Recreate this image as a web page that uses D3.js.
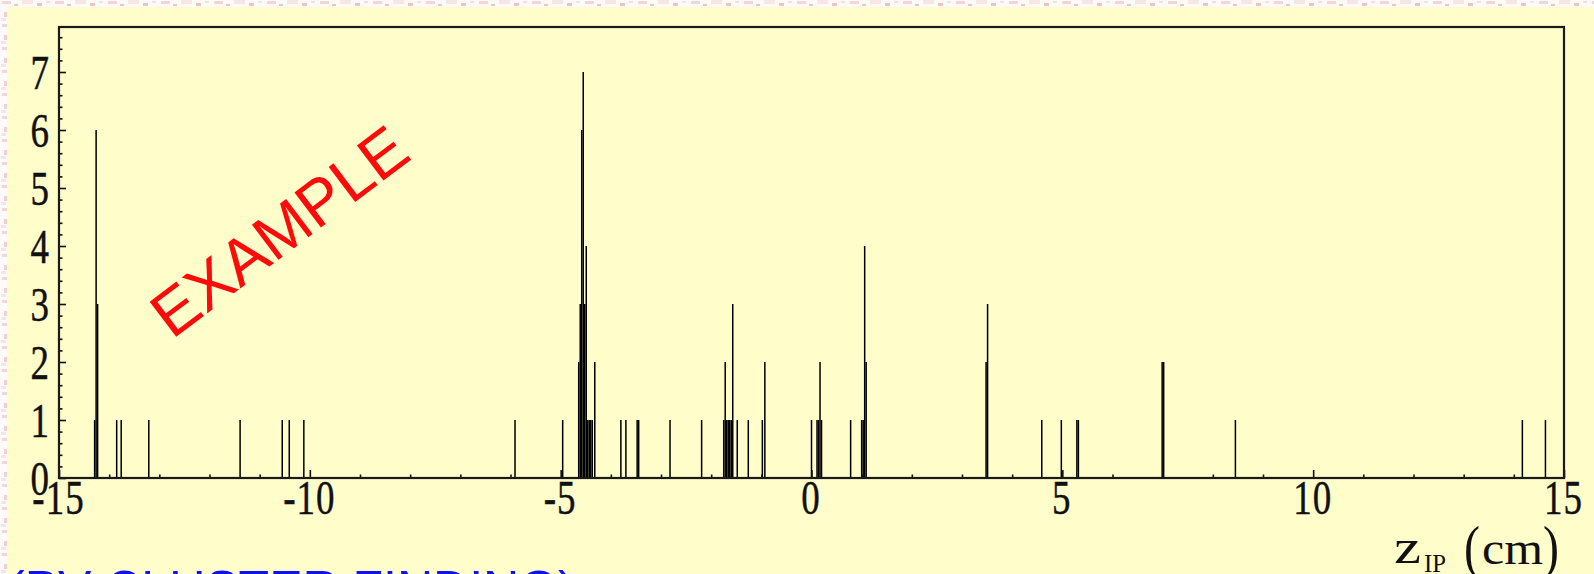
<!DOCTYPE html>
<html>
<head>
<meta charset="utf-8">
<script src="https://cdn.jsdelivr.net/npm/d3@7"></script>
<style>
  html, body { margin: 0; padding: 0; background: #fff; overflow: hidden; }
  svg { display: block; }
</style>
</head>
<body>
<svg id="chart" width="1594" height="574"></svg>
<script>
// Primary-vertex z histogram: bin centres (cm) and entries per bin
const binCenters = [
  -14.29, -14.26, -14.23,
  -13.85, -13.76,
  -13.21,
  -11.39,
  -10.55, -10.41, -10.12,
  -5.91,
  -4.96,
  -4.64, -4.61, -4.58, -4.55, -4.52, -4.49, -4.46, -4.43, -4.40, -4.37, -4.32,
  -3.80, -3.70, -3.475, -3.445,
  -2.82, -2.19,
  -1.75, -1.72, -1.69, -1.66, -1.63, -1.60, -1.57,
  -1.48, -1.26, -0.98, -0.93,
  0.00, 0.11, 0.14, 0.17, 0.20,
  0.78,
  1.00, 1.03, 1.06, 1.09,
  3.48, 3.51,
  4.59, 4.98, 5.29, 5.32,
  6.99, 7.02,
  8.45,
  14.17, 14.63
];
const binCounts = [
  1, 6, 3,
  1, 1,
  1,
  1,
  1, 1, 1,
  1,
  1,
  2, 3, 6, 7, 3, 4, 1, 1, 1, 1, 2,
  1, 1, 1, 1,
  1, 1,
  1, 2, 1, 1, 1, 1, 3,
  1, 1, 1, 2,
  1, 1, 1, 2, 1,
  1,
  1, 1, 4, 2,
  2, 3,
  1, 1, 1, 1,
  2, 2,
  1,
  1, 1
];
const binWidth = 0.03;

const xMajorTicks = [-15, -10, -5, 0, 5, 10, 15];
const xMinorTicks = [-14, -13, -12, -11, -9, -8, -7, -6, -4, -3, -2, -1,
                     1, 2, 3, 4, 6, 7, 8, 9, 11, 12, 13, 14];
const yMajorTicks = [0, 1, 2, 3, 4, 5, 6, 7];
const yMinorTicks = [0.2, 0.4, 0.6, 0.8, 1.2, 1.4, 1.6, 1.8, 2.2, 2.4, 2.6, 2.8,
                     3.2, 3.4, 3.6, 3.8, 4.2, 4.4, 4.6, 4.8, 5.2, 5.4, 5.6, 5.8,
                     6.2, 6.4, 6.6, 6.8, 7.2, 7.4, 7.6];

const stampText = "EXAMPLE";
const captionText = "(PV CLUSTER FINDING)";

const svg = d3.select("#chart");
const W = 1594, H = 574;
const plot = { left: 59, right: 1564, top: 27, bottom: 478 };

// slide texture along the top and left border
const defs = svg.append("defs");
const pat = defs.append("pattern")
  .attr("id", "slideTexture").attr("patternUnits", "userSpaceOnUse")
  .attr("width", 53).attr("height", 23);
pat.append("rect").attr("width", 53).attr("height", 23).attr("fill", "#fefafa");
const specks = [[2,1,9,3,"#f3d6d8"],[14,4,4,2,"#ecc4c7"],[22,0,11,4,"#f7e6e6"],
                [37,3,5,3,"#efc2c5"],[46,1,4,2,"#f6dfe0"],[4,12,3,5,"#f2d0d2"],
                [1,18,5,3,"#f7e4e4"]];
specks.forEach(s => pat.append("rect").attr("x", s[0]).attr("y", s[1])
  .attr("width", s[2]).attr("height", s[3]).attr("fill", s[4]));

svg.append("rect").attr("width", W).attr("height", H).attr("fill", "#fff");
svg.append("rect").attr("x", 0).attr("y", 0).attr("width", W).attr("height", 7)
  .attr("fill", "url(#slideTexture)");
svg.append("rect").attr("x", 0).attr("y", 0).attr("width", 7).attr("height", H)
  .attr("fill", "url(#slideTexture)");

// pale yellow panel
svg.append("rect").attr("x", 7).attr("y", 7).attr("width", W - 7).attr("height", H - 7)
  .attr("fill", "#fffdca");

const x = d3.scaleLinear().domain([-15, 15]).range([plot.left, plot.right]);
const y = d3.scaleLinear().domain([0, 7.776]).range([plot.bottom, plot.top]);

// histogram bins
svg.append("g").selectAll("rect")
  .data(binCenters.map((z, i) => ({ z, n: binCounts[i] })))
  .join("rect")
  .attr("x", d => x(d.z - binWidth / 2))
  .attr("width", d => x(d.z + binWidth / 2) - x(d.z - binWidth / 2))
  .attr("y", d => y(d.n))
  .attr("height", d => y(0) - y(d.n))
  .attr("fill", "#000");

const serif = "'Liberation Serif', 'DejaVu Serif', serif";
const stretchY = 1.33;

// x axis: ticks point into the frame
const xMajor = svg.append("g").attr("transform", `translate(0,${plot.bottom})`)
  .call(d3.axisBottom(x).tickValues(xMajorTicks).tickSize(-8).tickPadding(0)
    .tickFormat(d => d < 0 ? "-" + Math.abs(d) : String(d)));
svg.append("g").attr("transform", `translate(0,${plot.bottom})`)
  .call(d3.axisBottom(x).tickValues(xMinorTicks).tickSize(-3.5).tickFormat(""));

// y axis
const yMajor = svg.append("g").attr("transform", `translate(${plot.left},0)`)
  .call(d3.axisLeft(y).tickValues(yMajorTicks).tickSize(-7).tickPadding(0)
    .tickFormat(d => String(d)));
svg.append("g").attr("transform", `translate(${plot.left},0)`)
  .call(d3.axisLeft(y).tickValues(yMinorTicks).tickSize(-3.5).tickFormat(""));

svg.selectAll(".domain").remove();
svg.selectAll(".tick line").attr("stroke", "#111").attr("stroke-width", 1.6);

xMajor.selectAll(".tick text")
  .attr("y", null).attr("dy", null)
  .attr("transform", `translate(-1,36) scale(1,${stretchY})`)
  .attr("text-anchor", "middle")
  .attr("fill", "#111").attr("stroke", "#111").attr("stroke-width", 0.35)
  .attr("word-spacing", 0)
  .style("font-family", serif).style("font-size", "37px")
  .style("letter-spacing", "1px");

yMajor.selectAll(".tick text")
  .attr("x", null).attr("dy", null)
  .attr("transform", `translate(-10,16) scale(1,${stretchY})`)
  .attr("text-anchor", "end")
  .attr("fill", "#111").attr("stroke", "#111").attr("stroke-width", 0.35)
  .style("font-family", serif).style("font-size", "37px");

// plot frame
svg.append("rect")
  .attr("x", plot.left).attr("y", plot.top)
  .attr("width", plot.right - plot.left).attr("height", plot.bottom - plot.top)
  .attr("fill", "none").attr("stroke", "#1a1a1a").attr("stroke-width", 2.2);

// axis title: z_IP (cm)
const title = svg.append("text").attr("fill", "#111").style("font-family", serif);
title.append("tspan").attr("x", 1394).attr("y", 563).style("font-size", "48px")
  .attr("textLength", 27).attr("lengthAdjust", "spacingAndGlyphs").text("z");
title.append("tspan").attr("x", 1424).attr("y", 572).style("font-size", "26px")
  .attr("textLength", 22).attr("lengthAdjust", "spacingAndGlyphs").text("IP");
title.append("tspan").attr("x", 1464).attr("y", 567).style("font-size", "60px")
  .attr("textLength", 16).attr("lengthAdjust", "spacingAndGlyphs").text("(");
title.append("tspan").attr("x", 1482).attr("y", 564).style("font-size", "46px")
  .attr("textLength", 61).attr("lengthAdjust", "spacingAndGlyphs").text("cm");
title.append("tspan").attr("x", 1543).attr("y", 567).style("font-size", "60px")
  .attr("textLength", 16).attr("lengthAdjust", "spacingAndGlyphs").text(")");

// red stamp across the empty left part of the plot
svg.append("text")
  .attr("transform", "translate(172,340) rotate(-37)")
  .attr("fill", "#ff0a0a")
  .style("font-family", "'Liberation Sans', Arial, sans-serif")
  .style("font-size", "64px")
  .text(stampText);

// caption running off the bottom edge
svg.append("text")
  .attr("x", 8).attr("y", 606)
  .attr("fill", "#1010f0")
  .style("font-family", "'Liberation Sans', Arial, sans-serif")
  .style("font-size", "50px")
  .text(captionText);
</script>
</body>
</html>
